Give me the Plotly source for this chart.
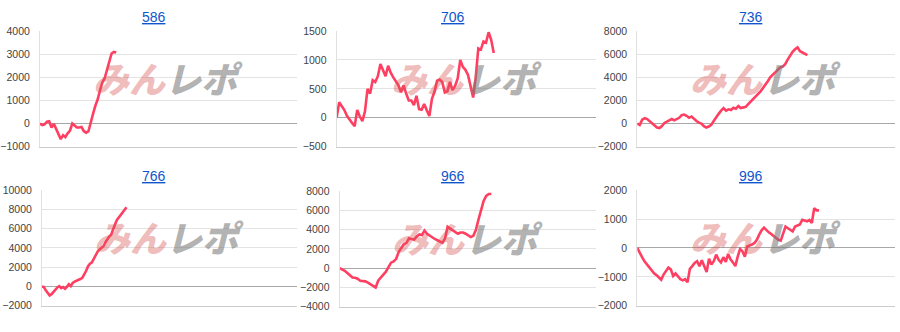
import plotly.graph_objects as go

# ---- data ----
titles = ["586", "706", "736", "766", "966", "996"]

s586 = [0, -60, -30, 80, 100, -170, -10, -220, -500, -670, -500, -580, -420, -300, 0, -80,
        -170, -170, -150, -330, -390, -330, 0, 430, 780, 1050, 1440, 1780, 1960, 2300, 2700,
        3030, 3100, 3070]
s706 = [0, 268, 200, 134, 34, -34, -89, -145, 134, 22, -56, 112, 500, 420, 650, 620, 720, 930,
        830, 720, 900, 780, 700, 620, 560, 440, 560, 420, 300, 300, 220, 380, 150, 140, 240, 130,
        30, 330, 450, 640, 660, 620, 440, 460, 620, 480, 550, 680, 1000, 880, 830, 740, 560, 350,
        700, 1200, 1180, 1320, 1300, 1480, 1350, 1120]
s736 = [0, -110, 335, 475, 390, 220, 0, -170, -335, -390, -220, 55, 170, 250, 390, 280, 390, 500,
        730, 780, 670, 500, 615, 390, 220, 85, 0, -220, -335, -250, -110, 220, 560, 840, 1120,
        1340, 1120, 1230, 1170, 1370, 1285, 1510, 1340, 1400, 1450, 1680, 1900, 2070, 2350, 2570,
        2790, 3070, 3350, 3690, 4020, 4250, 4470, 4690, 4860, 4920, 5140, 5530, 5920, 6200, 6420,
        6590, 6260, 6140, 6030, 5920]
s766 = [0, -67, -400, -730, -930, -800, -570, -300, -100, 33, -170, -67, -230, -33, 230, 33, 370,
        500, 570, 700, 770, 900, 1230, 1630, 2100, 2370, 2500, 2900, 3300, 3630, 3830, 3970, 4170,
        4570, 4900, 5170, 5370, 5970, 6430, 6900, 7170, 7430, 7700, 7970, 8230]
s966 = [0, -130, -270, -500, -770, -970, -1000, -1100, -1300, -1330, -1370, -1500, -1630, -1830,
        -2000, -1300, -970, -700, -370, 100, 570, 700, 970, 1700, 2170, 2500, 2630, 3100, 3030,
        2970, 3300, 3500, 3430, 3900, 3570, 3370, 3170, 3030, 2900, 2770, 2630, 3100, 4300, 4100,
        3900, 3700, 3570, 3700, 3700, 3570, 3370, 3230, 3370, 3970, 5030, 6030, 6970, 7500, 7700,
        7700]
s996 = [0, -190, -320, -460, -570, -700, -810, -880, -940, -1030, -1100, -920, -790, -680, -740,
        -970, -880, -990, -1080, -1120, -1080, -1190, -720, -630, -520, -460, -630, -430, -630,
        -830, -370, -570, -460, -230, -410, -500, -320, -480, -210, -390, -500, -630, -300, -33,
        -120, -300, 55, 78, 120, 170, 280, 460, 610, 700, 610, 540, 480, 410, 340, 280, 255, 480,
        740, 680, 630, 570, 740, 790, 810, 970, 940, 920, 970, 860, 1370, 1300, 1300]

series = [s586, s706, s736, s766, s966, s996]
y_ranges = [[-1000, 4000], [-500, 1500], [-2000, 8000], [-2000, 10000], [-4000, 8000], [-2000, 2000]]
y_dticks = [1000, 500, 2000, 2000, 2000, 1000]

# ---- layout geometry (pixels) ----
W, H = 900, 332
plot_px = [(39, 296, 26, 146), (336, 596, 26, 146), (637, 895, 26, 146),
           (41, 296, 191, 311), (339, 596, 192, 312), (637, 895, 191, 311)]
end_frac = [0.297, 0.605, 0.66, 0.332, 0.591, 0.705]
title_px = [(152.7, 11), (452.7, 11), (751, 11), (152.7, 176), (452.7, 176), (750.7, 176)]

LINE = "#ff3f62"
fig = go.Figure()
annotations = []
for i, (vals, t) in enumerate(zip(series, titles)):
    n = i + 1
    xa = "x" if n == 1 else f"x{n}"
    ya = "y" if n == 1 else f"y{n}"
    fig.add_trace(go.Scatter(x=list(range(len(vals))), y=vals, mode="lines",
                             line=dict(color=LINE, width=2.6), xaxis=xa, yaxis=ya,
                             showlegend=False, hoverinfo="skip"))
    x0, x1, y0, y1 = plot_px[i]
    xmax = (len(vals) - 1) / end_frac[i]
    xkey = "xaxis" if n == 1 else f"xaxis{n}"
    ykey = "yaxis" if n == 1 else f"yaxis{n}"
    fig.layout[xkey] = dict(domain=[x0 / W, x1 / W], range=[0, xmax], showgrid=False,
                            showticklabels=False, zeroline=False, showline=True,
                            linecolor="#cccccc", linewidth=1,
                            anchor=ya, fixedrange=True)
    fig.layout[ykey] = dict(domain=[1 - y1 / H, 1 - y0 / H], range=y_ranges[i], dtick=y_dticks[i],
                            tick0=0, tickformat="d", showgrid=True, gridcolor="#e3e3e3", gridwidth=1,
                            zeroline=True, zerolinecolor="#a8a8a8", zerolinewidth=1,
                            showline=True, linecolor="#e0e0e0", linewidth=1,
                            ticks="", ticklabelstandoff=7,
                            tickfont=dict(family="Liberation Sans", size=10.5, color="#444444"),
                            anchor=xa, fixedrange=True)
    tx, ty = title_px[i]
    annotations.append(dict(text=f"<u>{t}</u>", x=tx / W, y=1 - ty / H, xref="paper", yref="paper",
                            xanchor="center", yanchor="middle", showarrow=False,
                            font=dict(family="Liberation Sans", size=14, color="#1155cc")))
    xd = f"{xa} domain"
    yd = f"{ya} domain"
    annotations.append(dict(text="<i>みん</i>", x=0.35, y=0.6, xref=xd, yref=yd,
                            xanchor="center", yanchor="middle", showarrow=False,
                            font=dict(family="Noto Sans CJK JP", size=36, weight=900,
                                      color="rgba(215,80,80,0.40)")))
    annotations.append(dict(text="<i>レポ</i>", x=0.64, y=0.6, xref=xd, yref=yd,
                            xanchor="center", yanchor="middle", showarrow=False,
                            font=dict(family="Noto Sans CJK JP", size=36, weight=900,
                                      color="rgba(120,120,120,0.58)")))

fig.update_layout(width=W, height=H, margin=dict(l=0, r=0, t=0, b=0),
                  paper_bgcolor="white", plot_bgcolor="white", annotations=annotations,
                  showlegend=False)
fig.write_html("out.html")
